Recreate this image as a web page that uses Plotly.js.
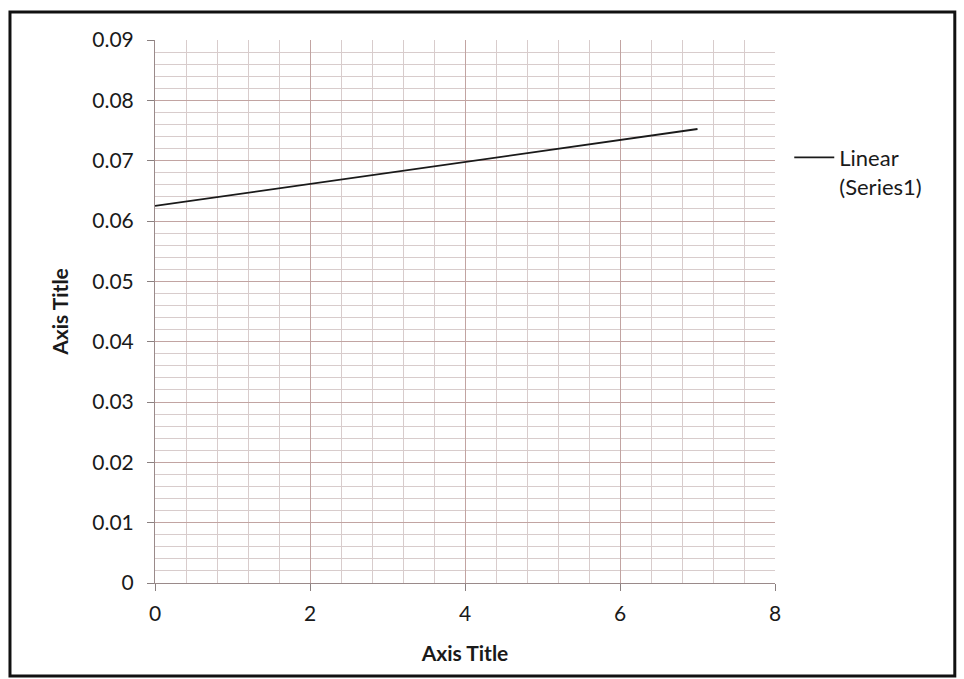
<!DOCTYPE html>
<html><head><meta charset="utf-8">
<script src="https://cdn.plot.ly/plotly-3.0.1.min.js"></script>
<style>html,body{margin:0;padding:0;background:#fff;}#chart{width:964px;height:679px;}</style>
</head><body><div id="chart"></div>
<script>
const trendX = [0, 7];
const trendY = [0.0625, 0.07525];
const seriesName = "Linear<br>(Series1)";
const xTitle = "Axis Title";
const yTitle = "Axis Title";
const xTickVals = [0, 2, 4, 6, 8];
const yTickVals = [0, 0.01, 0.02, 0.03, 0.04, 0.05, 0.06, 0.07, 0.08, 0.09];
const yTickText = ["0", "0.01", "0.02", "0.03", "0.04", "0.05", "0.06", "0.07", "0.08", "0.09"];

const font = "Lato, Open Sans, sans-serif";
const trace = {
  x: trendX, y: trendY, mode: "lines", name: seriesName,
  line: {color: "#1a1a1a", width: 1.8}, showlegend: true
};
const layout = {
  width: 964, height: 679,
  margin: {l: 155, r: 189, t: 40, b: 96},
  paper_bgcolor: "#fff", plot_bgcolor: "#fff",
  font: {family: font, color: "#1a1a1a", size: 21},
  xaxis: {
    range: [0, 8], tickvals: xTickVals,
    showgrid: true, gridcolor: "#c2a4a2", gridwidth: 1,
    minor: {dtick: 0.4, tick0: 0, showgrid: true, gridcolor: "#d8cccc", gridwidth: 1, ticks: ""},
    zeroline: false, showline: true, linecolor: "#9a8a8a", linewidth: 1,
    ticks: "outside", ticklen: 7, tickcolor: "#8a8080", ticklabelstandoff: 5,
    tickfont: {size: 21, family: font},
    title: {text: xTitle, font: {size: 21, family: font, weight: "bold"}, standoff: 22}
  },
  yaxis: {
    range: [0, 0.09], tickvals: yTickVals, ticktext: yTickText,
    showgrid: true, gridcolor: "#c2a4a2", gridwidth: 1,
    minor: {dtick: 0.002, tick0: 0, showgrid: true, gridcolor: "#d8cccc", gridwidth: 1, ticks: ""},
    zeroline: false, showline: true, linecolor: "#9a8a8a", linewidth: 1,
    ticks: "outside", ticklen: 7, tickcolor: "#8a8080", ticklabelstandoff: 9,
    tickfont: {size: 21, family: font},
    title: {text: yTitle, font: {size: 21, family: font, weight: "bold"}, standoff: 17}
  },
  legend: {
    x: 1.023, y: 0.822, xanchor: "left", yanchor: "top", valign: "top",
    font: {size: 22, family: font}, bgcolor: "rgba(0,0,0,0)",
    itemwidth: 40, tracegroupgap: 0
  },
  shapes: [{
    type: "rect", xref: "paper", yref: "paper",
    x0: -0.2339, x1: 1.290, y0: -0.1713, y1: 1.0516,
    line: {color: "#111", width: 3}, fillcolor: "rgba(0,0,0,0)", layer: "above"
  }]
};
Plotly.newPlot("chart", [trace], layout, {displayModeBar: false, staticPlot: true});
</script></body></html>
